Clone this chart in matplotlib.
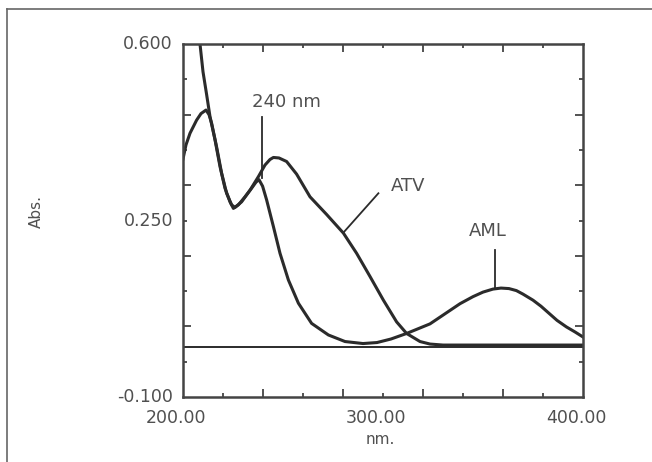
import numpy as np
import matplotlib
matplotlib.use("Agg")
import matplotlib.pyplot as plt
from matplotlib.lines import Line2D
from matplotlib.transforms import blended_transform_factory

plt.rcParams['font.family'] = ['DejaVu Sans']

# --- spectra (wavelength nm, absorbance) ---
aml_wl = [207.6, 208.5, 210, 211.8, 213.5, 216, 218.5, 221, 223.5, 225.2, 227.7, 231,
          234.3, 236.5, 238, 239.8, 241.8, 245.2, 248.5, 252.7, 257.7, 264.3, 272.7,
          281, 290, 297, 304, 311.8, 323.5, 331, 338.5, 345, 350, 355, 359,
          363, 366.7, 370, 375, 379, 383, 387, 391.7, 396, 400]
aml_abs = [0.65, 0.60, 0.545, 0.50, 0.456, 0.41, 0.357, 0.314, 0.287, 0.274, 0.281, 0.297,
           0.314, 0.326, 0.331, 0.318, 0.291, 0.238, 0.185, 0.132, 0.086, 0.046, 0.023,
           0.010, 0.006, 0.008, 0.015, 0.026, 0.045, 0.065, 0.085, 0.099, 0.108, 0.114, 0.116,
           0.115, 0.111, 0.104, 0.092, 0.080, 0.066, 0.052, 0.039, 0.029, 0.019]

atv_wl = [200, 201.5, 203.5, 206.8, 209, 211.5, 213, 214.3, 216.8, 219.3, 221.8, 224.3,
          226, 229.3, 233.5, 237.7, 241, 243.5, 245.2, 248, 251.8, 256.8, 263.5, 271.8,
          280.2, 286.8, 293.5, 300.2, 306.8, 311.8, 318.5, 323.5, 330, 400]
atv_abs = [0.372, 0.40, 0.423, 0.449, 0.462, 0.469, 0.46, 0.443, 0.396, 0.344, 0.304, 0.281,
           0.276, 0.287, 0.31, 0.337, 0.36, 0.371, 0.375, 0.374, 0.367, 0.342, 0.297, 0.262,
           0.225, 0.185, 0.139, 0.092, 0.049, 0.026, 0.010, 0.005, 0.003, 0.003]

baseline_wl = [200, 400]
baseline_abs = [0.0, 0.0]

x_long = [240, 280, 320, 360]
x_short = [220, 260, 300, 340, 380]
x_labels = [200, 300, 400]
y_long = [0.46, 0.32, 0.18, 0.04]
y_short = [0.53, 0.39, 0.25, 0.11, -0.03]
y_labels = [0.600, 0.250, -0.100]

line_col = '#2b2b2b'
text_col = '#505050'

fig = plt.figure(figsize=(6.52, 4.62), dpi=100)
ax = fig.add_axes([183/652, 1-397/462, 400/652, 353/462])

ax.plot(baseline_wl, baseline_abs, color=line_col, lw=1.4)
ax.plot(atv_wl, atv_abs, color=line_col, lw=2.2, solid_joinstyle='round')
ax.plot(aml_wl, aml_abs, color=line_col, lw=2.2, solid_joinstyle='round')

ax.set_xlim(200, 400)
ax.set_ylim(-0.1, 0.6)

# ticks: long majors, short minors, on all four sides
ax.set_xticks(x_long)
ax.set_xticks(x_short, minor=True)
ax.set_yticks(y_long)
ax.set_yticks(y_short, minor=True)
ax.tick_params(which='both', direction='in', top=True, right=True,
               labelbottom=False, labelleft=False, color='#444444', width=1.3)
ax.tick_params(which='major', length=6)
ax.tick_params(which='minor', length=3)
for s in ax.spines.values():
    s.set_color('#444444')
    s.set_linewidth(1.8)

# tick labels
tb = blended_transform_factory(ax.transData, ax.transAxes)
for v in x_labels:
    ax.text(v - 3.5, -0.035, '%.2f' % v, transform=tb, ha='center', va='top',
            fontsize=12.5, color=text_col)
tl = blended_transform_factory(ax.transAxes, ax.transData)
for v in y_labels:
    ax.text(-0.025, v, '%.3f' % v, transform=tl, ha='right', va='center',
            fontsize=12.5, color=text_col)

fig.text(380/652, 1-440/462, 'nm.', ha='center', va='center', fontsize=11, color=text_col)
fig.text(36/652, 1-212/462, 'Abs.', ha='center', va='center', rotation=90,
         fontsize=11, color=text_col)

# annotations
ax.text(251.5, 0.485, '240 nm', ha='center', va='center', fontsize=13, color=text_col)
ax.plot([239.3, 239.3], [0.456, 0.335], color=line_col, lw=1.3)
ax.text(312.5, 0.318, 'ATV', ha='center', va='center', fontsize=13, color=text_col)
ax.plot([297.7, 280.2], [0.304, 0.226], color=line_col, lw=1.3)
ax.text(352.5, 0.229, 'AML', ha='center', va='center', fontsize=13, color=text_col)
ax.plot([356, 356], [0.191, 0.116], color=line_col, lw=1.3)

# outer frame of the scanned figure (top and left edges only)
fig.add_artist(Line2D([7/652, 1.0], [1-9/462, 1-9/462], color='#666666', lw=1.2))
fig.add_artist(Line2D([7/652, 7/652], [0.0, 1-9/462], color='#666666', lw=1.2))

fig.savefig('out.png', dpi=100, facecolor='white')
